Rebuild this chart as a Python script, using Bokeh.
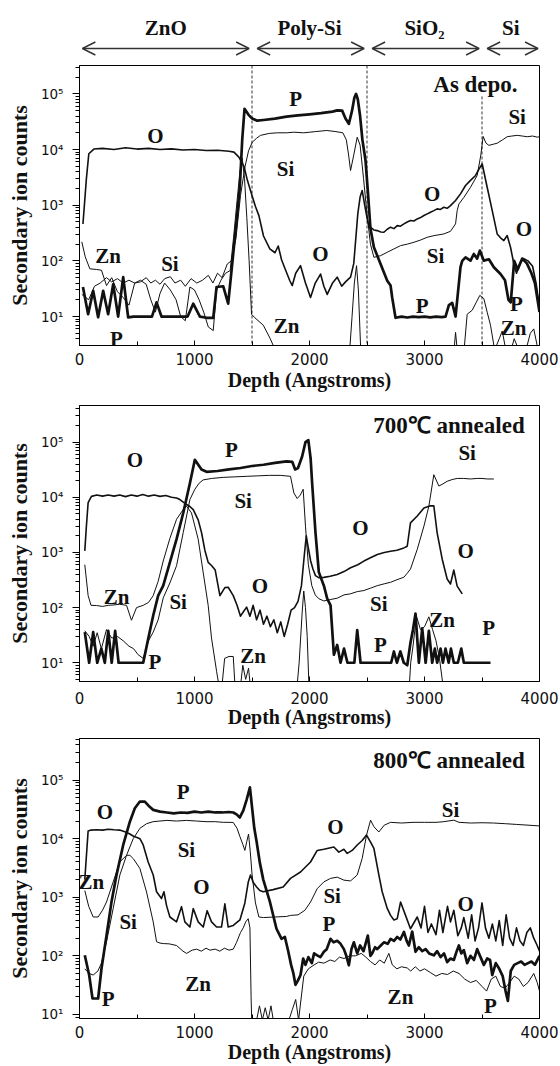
from bokeh.plotting import figure
from bokeh.layouts import column
from bokeh.models import (Range1d, FixedTicker, Arrow, OpenHead, ColumnDataSource,
                          CustomJSTickFormatter)
from bokeh.core.properties import value
from bokeh.embed import file_html
from bokeh.resources import INLINE

# ---------------------------------------------------------------- data
layers = ["ZnO", "Poly-Si", "SiO\u2082", "Si"]
layer_bounds = [0, 1500, 2500, 3500, 4000]
x_ticks = [0, 1000, 2000, 3000, 4000]
x_minor = [500, 1500, 2500, 3500]
y_decades = [10, 100, 1000, 10000, 100000]

# ---- panel 1 : as deposited
p1_O_x = [30, 60, 81, 125, 200, 300, 400, 500, 600, 700, 800, 900, 1000, 1100, 1200, 1300, 1343, 1386, 1430, 1460,
          1500, 1530, 1560, 1600, 1655, 1700, 1728, 1757, 1790, 1829, 1850, 1880, 1922, 1965, 2009, 2050, 2096, 2125,
          2154, 2200, 2241, 2280, 2313, 2357, 2385, 2420, 2440, 2458, 2480, 2500, 2516, 2531, 2560, 2588, 2620, 2647,
          2676, 2705, 2734, 2763, 2792, 2821, 2850, 2878, 2908, 2937, 2966, 2995, 3024, 3052, 3081, 3110, 3139, 3168,
          3197, 3226, 3270, 3313, 3357, 3400, 3444, 3475, 3502, 3545, 3589, 3632, 3661, 3690, 3719, 3748, 3777, 3800,
          3830, 3860, 3900, 3940, 3970, 4000]
p1_O_y = [460, 3000, 8400, 10200, 10500, 10000, 10800, 10200, 10500, 10000, 10300, 9800, 10000, 9600, 9700, 9300, 9000,
          7300, 5000, 2800, 1500, 950, 650, 280, 165, 140, 185, 105, 70, 44, 36, 60, 82, 40, 22, 40, 58, 35, 25, 40,
          51, 35, 42, 51, 90, 700, 1400, 1840, 1000, 600, 420, 400, 360, 350, 330, 327, 370, 403, 380, 430, 420, 462,
          500, 531, 520, 568, 600, 653, 700, 750, 800, 860, 840, 920, 880, 985, 1213, 1600, 2260, 2800, 3420, 4500,
          5500, 2100, 800, 305, 260, 232, 285, 176, 88, 60, 90, 110, 100, 80, 40, 15]
p1_P_x = [30, 75, 119, 162, 206, 249, 293, 336, 380, 423, 470, 520, 580, 630, 670, 713, 760, 820, 880, 940, 989, 1047,
          1105, 1163, 1192, 1250, 1293, 1322, 1366, 1394, 1415, 1435, 1470, 1502, 1545, 1600, 1700, 1800, 1900, 2000,
          2100, 2200, 2241, 2284, 2313, 2342, 2370, 2390, 2405, 2420, 2440, 2460, 2487, 2510, 2530, 2560, 2618, 2676,
          2705, 2719, 2748, 2800, 2850, 2900, 2950, 3000, 3050, 3100, 3150, 3183, 3212, 3241, 3270, 3313, 3328, 3357,
          3400, 3429, 3458, 3481, 3516, 3560, 3603, 3661, 3700, 3730, 3750, 3780, 3810, 3850, 3890, 3930, 3960, 4000]
p1_P_y = [34, 11, 29, 9.7, 29, 11, 38, 10, 51, 9.7, 10, 10, 10, 10, 18, 10, 10, 10, 10, 10, 17, 10, 9.5, 9.5, 34, 35,
          17, 67, 531, 2100, 15000, 54000, 42000, 36000, 33000, 34000, 36000, 39000, 41000, 43000, 45000, 48000, 50500,
          50000, 36000, 29000, 50000, 85000, 100000, 80000, 40000, 15000, 6400, 1500, 380, 176, 88, 44, 36, 22, 9.5,
          10, 9.6, 10, 9.8, 10, 9.7, 10, 9.8, 10, 16, 17.6, 10, 77, 100, 116, 101, 133, 110, 153, 101, 107, 77, 58, 45,
          20, 18, 100, 70, 110, 90, 60, 40, 12]
p1_Si_x = [20, 80, 130, 180, 235, 280, 330, 380, 430, 480, 530, 580, 620, 660, 700, 740, 790, 830, 880, 920, 970, 1020,
           1070, 1120, 1160, 1200, 1240, 1285, 1320, 1360, 1400, 1440, 1470, 1502, 1540, 1574, 1650, 1720, 1800, 1864,
           1950, 2050, 2150, 2230, 2290, 2320, 2340, 2357, 2385, 2415, 2440, 2470, 2500, 2530, 2560, 2618, 2676, 2734,
           2792, 2850, 2908, 2966, 3024, 3082, 3168, 3226, 3270, 3284, 3299, 3342, 3400, 3458, 3490, 3510, 3535, 3560,
           3600, 3632, 3680, 3719, 3760, 3806, 3850, 3893, 3940, 3980, 4000]
p1_Si_y = [25, 20, 35, 40, 50, 42, 48, 40, 45, 40, 42, 50, 40, 45, 38, 48, 52, 40, 45, 35, 48, 40, 45, 55, 40, 60, 50,
           88, 100, 250, 1500, 5000, 9500, 13500, 16000, 18000, 19500, 20000, 20000, 20500, 20000, 21000, 22000, 21000,
           20000, 15000, 8000, 4200, 8000, 16700, 12000, 3000, 700, 200, 116, 124, 143, 164, 188, 200, 216, 237, 266,
           284, 305, 340, 462, 800, 1050, 1380, 2100, 3420, 8000, 17200, 13000, 11900, 12500, 13000, 15000, 17000,
           17500, 18000, 17500, 17000, 17500, 16700, 17000]
p1_Zn_x = [20, 50, 90, 150, 191, 235, 280, 330, 380, 430, 480, 530, 580, 620, 660, 700, 740, 790, 840, 880, 920, 960,
           1000, 1040, 1080, 1120, 1163, 1192, 1230, 1270, 1310, 1340, 1370, 1395, 1415, 1435, 1455, 1475, 1496, 1525,
           1598, 1656, 1699, 1730, 1800, 2300, 2342, 2370, 2390, 2409, 2425, 2444, 2470, 3240, 3270, 3295, 3340, 3371,
           3415, 3450, 3481, 3516, 3545, 3574, 3610, 3650, 3676, 3700, 3740, 3780, 3820, 3870, 3920, 3950, 3980, 4000]
p1_Zn_y = [220, 118, 72, 70, 68, 36, 50, 28, 22, 16, 40, 45, 38, 20, 12, 26, 40, 30, 20, 10, 8.4, 34, 30, 20, 12, 6.5,
           5.6, 30, 45, 60, 67, 266, 1200, 4000, 7000, 3000, 600, 100, 11, 9.5, 7, 4.1, 2.6, 2.0, 1, 1, 1.5, 10, 40, 82,
           30, 3, 1, 1, 5.2, 1.5, 2, 11, 13, 18, 24, 21, 12, 7, 2.5, 4, 5.5, 3, 2, 4, 2.5, 2, 5, 6, 3, 2]
p1_lab = ["O", "P", "Si", "Zn", "Si", "P", "Zn", "O", "O", "Si", "P", "Si", "O", "P", "Zn"]
p1_lab_x = [660, 1879, 1792, 249, 786, 322, 1800, 2096, 3067, 3096, 2980, 3806, 3864, 3800, 3774]
p1_lab_y = [17500, 82000, 4500, 124, 88, 3.9, 6.9, 133, 1600, 124, 15.7, 38000, 376, 17, 6.3]

# ---- panel 2 : 700 C annealed
p2_O_x = [46, 60, 75, 104, 150, 200, 250, 300, 350, 400, 450, 500, 550, 600, 650, 700, 750, 800, 844, 873, 931, 960,
          989, 1032, 1061, 1090, 1119, 1148, 1180, 1221, 1264, 1293, 1337, 1370, 1400, 1424, 1453, 1482, 1510, 1540,
          1570, 1600, 1630, 1660, 1690, 1720, 1750, 1780, 1810, 1840, 1870, 1900, 1930, 1955, 1972, 1990, 2010, 2030,
          2052, 2080, 2125, 2180, 2241, 2300, 2357, 2420, 2473, 2530, 2590, 2650, 2705, 2760, 2821, 2850, 2878, 2937,
          2995, 3052, 3081, 3110, 3154, 3197, 3226, 3255, 3284, 3328]
p2_O_y = [1070, 3000, 8000, 10400, 11000, 10500, 11000, 10500, 11000, 10300, 11000, 10500, 11200, 10500, 11000, 10400,
          10800, 10000, 9700, 9100, 7400, 6800, 6000, 3900, 2300, 1100, 660, 580, 480, 165, 230, 234, 165, 110, 70, 83,
          102, 70, 110, 60, 90, 50, 70, 45, 60, 35, 55, 30, 50, 90, 100, 130, 250, 900, 2000, 1200, 700, 500, 380, 350,
          353, 370, 400, 450, 528, 600, 698, 800, 920, 1000, 1050, 1100, 1210, 1300, 3440, 4580, 6400, 7000, 7000,
          2270, 755, 330, 268, 480, 245, 177]
p2_P_x = [46, 84, 119, 154, 190, 220, 250, 280, 310, 340, 380, 420, 460, 500, 554, 597, 641, 684, 728, 786, 844, 902,
          960, 1003, 1061, 1105, 1200, 1300, 1400, 1500, 1600, 1700, 1800, 1850, 1875, 1900, 1936, 1965, 1990, 2010,
          2023, 2052, 2081, 2125, 2154, 2183, 2212, 2241, 2270, 2300, 2330, 2360, 2390, 2415, 2444, 2480, 2520, 2560,
          2600, 2640, 2680, 2710, 2734, 2760, 2790, 2820, 2850, 2878, 2900, 2922, 2951, 2980, 3010, 3038, 3067, 3090,
          3110, 3140, 3160, 3183, 3210, 3230, 3255, 3290, 3320, 3342, 3371, 3420, 3458, 3520, 3574]
p2_P_y = [36, 10, 36, 10, 18, 10, 38, 10, 38, 10, 10, 10, 10, 10, 10, 27, 72, 165, 250, 660, 1740, 5200, 18000, 48000,
          32000, 29000, 30000, 32000, 34000, 37000, 39000, 42000, 45000, 44000, 32000, 34000, 55000, 100000, 109000,
          50000, 18000, 2300, 440, 250, 145, 110, 14, 21, 10, 18, 10, 10, 10, 39, 10, 10, 10, 10, 10, 10, 10, 10, 16,
          10, 16, 10, 9, 23, 40, 78, 10, 42, 10, 38, 10, 18, 10, 18, 10, 18, 10, 18, 10, 10, 18, 10, 10, 10, 10, 10, 10]
p2_Si_x = [46, 84, 119, 154, 190, 235, 280, 330, 380, 430, 470, 510, 554, 600, 641, 684, 728, 786, 844, 902, 960, 1003,
           1040, 1075, 1150, 1250, 1350, 1450, 1550, 1650, 1750, 1835, 1864, 1893, 1920, 1945, 1965, 1990, 2020, 2050,
           2081, 2125, 2180, 2241, 2300, 2357, 2415, 2473, 2530, 2589, 2650, 2705, 2760, 2821, 2850, 2878, 2937, 2995,
           3038, 3081, 3125, 3160, 3197, 3240, 3284, 3340, 3400, 3458, 3500, 3545, 3603]
p2_Si_y = [38, 30, 20, 35, 18, 40, 28, 30, 25, 20, 18, 14, 12, 25, 36, 60, 150, 280, 575, 2300, 9100, 14000, 18000,
           20700, 22000, 23000, 23500, 24000, 24500, 25000, 25000, 24000, 12000, 9500, 11000, 14000, 3000, 600, 250,
           170, 145, 132, 140, 148, 170, 178, 195, 204, 225, 250, 270, 288, 320, 356, 420, 500, 1140, 3000, 6900,
           25700, 16000, 17500, 19500, 21000, 22000, 22000, 21500, 22000, 22000, 21500, 21500]
p2_Zn_x = [46, 75, 100, 148, 200, 250, 300, 350, 409, 452, 496, 554, 600, 641, 684, 728, 786, 844, 902, 931, 974, 1032,
           1075, 1119, 1148, 1192, 1221, 1240, 1262, 1300, 1337, 1355, 1395, 1420, 1445, 1470, 1490, 1520, 1880, 1910,
           1936, 1950, 1965, 1980, 2000, 2860, 2880, 2900, 2930, 2965, 3000, 3038, 3070, 3100, 3130, 3160]
p2_Zn_y = [600, 165, 110, 109, 105, 110, 112, 115, 110, 59, 100, 110, 124, 165, 300, 700, 1800, 4000, 6000, 6900, 5200,
           1740, 440, 110, 28, 7, 3, 4, 12, 13, 13, 3, 3, 9, 5, 8, 3, 2, 2, 10, 80, 200, 100, 30, 2, 2, 10, 20, 70, 40,
           45, 68, 40, 25, 12, 4]
p2_lab = ["O", "P", "Si", "O", "Zn", "Si", "P", "Zn", "O", "Si", "P", "O", "Zn", "P", "Si"]
p2_lab_x = [481, 1322, 1423, 1568, 322, 858, 655, 1510, 2443, 2603, 2617, 3357, 3154, 3559, 3371]
p2_lab_y = [48000, 72000, 8500, 250, 155, 126, 10.5, 13, 2800, 117, 21, 1070, 59, 42, 63000]

# ---- panel 3 : 800 C annealed
p3_O_x = [46, 75, 100, 150, 200, 250, 300, 350, 400, 438, 470, 500, 525, 554, 597, 641, 670, 713, 734, 757, 786, 844,
          887, 916, 960, 989, 1032, 1076, 1110, 1148, 1192, 1235, 1264, 1293, 1337, 1395, 1438, 1467, 1487, 1510, 1540,
          1568, 1598, 1684, 1771, 1835, 1922, 2009, 2067, 2125, 2212, 2255, 2299, 2328, 2371, 2415, 2458, 2496, 2531,
          2560, 2603, 2632, 2676, 2705, 2734, 2763, 2792, 2835, 2878, 2937, 2970, 3000, 3030, 3060, 3100, 3130, 3160,
          3200, 3226, 3255, 3290, 3320, 3342, 3380, 3410, 3440, 3470, 3500, 3530, 3560, 3590, 3620, 3650, 3680, 3710,
          3740, 3770, 3800, 3830, 3860, 3890, 3920, 3950, 3980, 4000]
p3_O_y = [2000, 13500, 14000, 14200, 14000, 14500, 14200, 14000, 13000, 12000, 11000, 10500, 10000, 7800, 4000, 2400,
          1240, 950, 1240, 720, 460, 380, 690, 380, 310, 640, 380, 310, 590, 380, 310, 310, 770, 310, 330, 410, 800,
          1800, 2400, 1800, 1500, 1300, 1240, 1350, 1500, 2100, 2700, 4000, 6300, 6600, 7200, 5900, 6600, 5600, 6300,
          7800, 9300, 11500, 8700, 6800, 2400, 1240, 645, 490, 410, 430, 830, 490, 290, 460, 300, 700, 250, 350, 230,
          600, 250, 700, 380, 600, 220, 300, 450, 200, 500, 180, 300, 800, 300, 200, 350, 180, 400, 150, 500, 200, 150,
          300, 180, 150, 250, 300, 200, 150, 120]
p3_P_x = [46, 84, 113, 162, 191, 235, 278, 322, 380, 438, 481, 525, 568, 610, 641, 700, 760, 820, 880, 940, 1000, 1060,
          1120, 1180, 1240, 1300, 1337, 1366, 1394, 1424, 1453, 1482, 1500, 1520, 1540, 1568, 1598, 1656, 1713, 1757,
          1786, 1815, 1840, 1860, 1878, 1900, 1922, 1945, 1965, 1990, 2020, 2040, 2067, 2095, 2125, 2150, 2183, 2210,
          2241, 2270, 2299, 2320, 2342, 2365, 2386, 2415, 2440, 2470, 2507, 2530, 2545, 2570, 2589, 2620, 2647, 2680,
          2705, 2735, 2763, 2790, 2821, 2845, 2864, 2893, 2922, 2950, 2980, 3010, 3040, 3081, 3110, 3140, 3170, 3197,
          3226, 3255, 3280, 3299, 3320, 3342, 3371, 3400, 3430, 3458, 3487, 3516, 3545, 3570, 3589, 3620, 3650, 3680,
          3705, 3725, 3750, 3780, 3810, 3840, 3870, 3900, 3930, 3960, 4000]
p3_P_y = [102, 47, 18.7, 18.7, 60, 223, 826, 2400, 7800, 19500, 33000, 43000, 43000, 35000, 31000, 29000, 28000, 27000,
          28000, 27500, 29000, 28000, 29000, 28000, 28000, 28500, 28000, 26000, 23000, 30000, 46000, 75000, 35000,
          15000, 8900, 3900, 2000, 830, 290, 195, 210, 120, 70, 50, 32, 38, 47, 90, 70, 95, 75, 110, 102, 95, 117, 130,
          195, 170, 180, 160, 130, 100, 69, 130, 170, 110, 150, 120, 222, 100, 110, 140, 130, 150, 170, 160, 195, 180,
          210, 190, 255, 180, 150, 260, 117, 140, 120, 130, 110, 102, 120, 95, 110, 78, 90, 85, 120, 150, 110, 125, 75,
          100, 85, 130, 95, 70, 90, 85, 47, 75, 60, 45, 25, 17, 55, 70, 75, 80, 70, 75, 80, 70, 100]
p3_Si_x = [46, 84, 119, 160, 191, 235, 293, 351, 409, 467, 525, 583, 640, 699, 760, 844, 930, 1018, 1100, 1180, 1250,
           1300, 1337, 1370, 1394, 1420, 1438, 1455, 1470, 1485, 1500, 1530, 1560, 1600, 1700, 1800, 1835, 1900, 1960,
           2009, 2067, 2125, 2183, 2241, 2299, 2357, 2415, 2458, 2496, 2531, 2560, 2603, 2650, 2705, 2800, 2900, 3000,
           3100, 3168, 3255, 3300, 3400, 3500, 3600, 3705, 3800, 3900, 4000]
p3_Si_y = [60, 50, 47, 55, 75, 174, 645, 2400, 5200, 10000, 15000, 18000, 19500, 20000, 20500, 20000, 20500, 20000,
           19500, 19500, 19000, 19000, 18900, 15000, 11000, 8000, 6300, 9000, 12000, 6000, 2500, 800, 460, 450, 460,
           470, 490, 500, 600, 830, 1400, 1830, 2100, 2200, 1960, 1900, 2400, 4600, 11500, 20700, 16000, 13000, 17000,
           19000, 18500, 19000, 19000, 19000, 19500, 20700, 19000, 18500, 18700, 18500, 18000, 17500, 17000, 16500]
p3_Zn_x = [46, 80, 119, 162, 200, 235, 293, 351, 409, 438, 470, 525, 583, 641, 670, 700, 728, 780, 844, 900, 931, 980,
           1018, 1060, 1100, 1134, 1180, 1220, 1260, 1300, 1337, 1366, 1400, 1424, 1445, 1467, 1482, 1492, 1500, 1540,
           1565, 1590, 1615, 1640, 1665, 1690, 1720, 1800, 1850, 1880, 1905, 1950, 1990, 2040, 2080, 2125, 2180, 2220,
           2260, 2300, 2350, 2400, 2450, 2490, 2530, 2570, 2610, 2650, 2690, 2720, 2760, 2800, 2850, 2880, 2920, 2960,
           3000, 3050, 3100, 3150, 3200, 3250, 3300, 3350, 3400, 3450, 3500, 3540, 3580, 3620, 3660, 3700, 3740, 3780,
           3820, 3860, 3900, 3950, 3980, 4000]
p3_Zn_y = [1300, 700, 460, 460, 600, 830, 1830, 4000, 5200, 5200, 4500, 3100, 1230, 380, 174, 165, 162, 160, 150, 120,
           110, 125, 130, 120, 135, 125, 130, 120, 135, 125, 130, 170, 250, 300, 380, 430, 300, 20, 5, 8, 14, 8, 13, 8,
           14, 7, 6, 6, 12, 18, 8, 45, 60, 70, 78, 75, 85, 80, 95, 90, 100, 100, 110, 95, 80, 70, 85, 75, 110, 70, 60,
           65, 62, 55, 65, 55, 60, 52, 45, 50, 48, 55, 50, 40, 35, 38, 30, 25, 40, 45, 30, 28, 35, 45, 40, 30, 35, 50,
           35, 25]
p3_lab = ["O", "P", "Si", "O", "Zn", "Si", "Zn", "P", "O", "Si", "Si", "P", "O", "Zn", "P"]
p3_lab_x = [220, 901, 930, 1061, 104, 423, 1032, 249, 2226, 3226, 2197, 2168, 3357, 2791, 3574]
p3_lab_y = [29000, 63000, 6300, 1500, 1820, 380, 33, 18.6, 16000, 31000, 1070, 355, 780, 20, 14]

# ---------------------------------------------------------------- style
SERIF = "Liberation Serif"
SANS = "DejaVu Sans"
INK = "#111111"
FRAME_L, FRAME_R, W = 79, 21, 560

sup_fmt = CustomJSTickFormatter(code="""
const sup = ["\u2070","\u00b9","\u00b2","\u00b3","\u2074","\u2075","\u2076","\u2077","\u2078","\u2079"];
const e = Math.round(Math.log10(tick));
return "10" + (e >= 0 && e < 10 ? sup[e] : String(e));
""")
y_minor = [m * d / 10 for d in [1] + y_decades + [1000000] for m in range(2, 10)]


def panel(height, top, bottom, ylo, yhi, tick_sd, lab_sd):
    p = figure(width=W, height=height, x_range=Range1d(0, 4000), y_range=Range1d(ylo, yhi),
               y_axis_type="log", output_backend="svg", toolbar_location=None,
               min_border_left=FRAME_L, min_border_right=FRAME_R,
               min_border_top=top, min_border_bottom=bottom)
    p.grid.visible = False
    p.outline_line_color = "black"
    p.outline_line_width = 1
    p.outline_line_alpha = 1
    xa = p.xaxis[0]
    xa.ticker = FixedTicker(ticks=x_ticks, minor_ticks=x_minor)
    xa.axis_label = "Depth (Angstroms)"
    xa.axis_label_text_font = SERIF
    xa.axis_label_text_font_style = "bold"
    xa.axis_label_text_font_size = "20px"
    xa.axis_label_text_color = INK
    xa.axis_label_standoff = lab_sd
    xa.major_label_text_font = SANS
    xa.major_label_text_font_size = "15px"
    xa.major_label_text_color = INK
    xa.major_label_standoff = tick_sd
    xa.major_tick_in, xa.major_tick_out = 5, 0
    xa.minor_tick_in, xa.minor_tick_out = 4, 0
    xa.axis_line_color = "black"
    xa.major_tick_line_color = "black"
    xa.minor_tick_line_color = "black"
    ya = p.yaxis[0]
    ya.ticker = FixedTicker(ticks=y_decades, minor_ticks=y_minor)
    ya.formatter = sup_fmt
    ya.axis_label = "Secondary ion counts"
    ya.axis_label_text_font = SERIF
    ya.axis_label_text_font_style = "bold"
    ya.axis_label_text_font_size = "22px"
    ya.axis_label_text_color = INK
    ya.axis_label_standoff = 6
    ya.major_label_text_font = SANS
    ya.major_label_text_font_size = "13.5px"
    ya.major_label_text_color = INK
    ya.major_label_standoff = 9
    ya.major_tick_in, ya.major_tick_out = 0, 7
    ya.minor_tick_in, ya.minor_tick_out = 0, 4
    ya.axis_line_color = "black"
    ya.major_tick_line_color = "black"
    ya.minor_tick_line_color = "black"
    return p


def draw(p, series, labels, lx, ly):
    widths = {"O": 1.6, "P": 2.7, "Si": 1.0, "Zn": 1.0}
    for name, (xs, ys) in series.items():
        n = min(len(xs), len(ys))
        p.line(xs[:n], ys[:n], line_color=INK, line_width=widths[name], line_join="round")
    src = ColumnDataSource(dict(x=lx, y=ly, t=labels))
    p.text(x="x", y="y", text="t", source=src, text_font=value(SERIF), text_font_style="bold",
           text_font_size="21px", text_align="center", text_baseline="middle", text_color=INK)


def title(p, txt, x, y):
    p.text(x=[x], y=[y], text=[txt], text_font=value(SERIF), text_font_style="bold",
           text_font_size="23px", text_align="center", text_baseline="middle", text_color=INK)


# ---------------------------------------------------------------- header (layer arrows)
hdr = figure(width=W, height=60, x_range=Range1d(0, 4000), y_range=Range1d(60, 0),
             output_backend="svg", toolbar_location=None, x_axis_location=None, y_axis_location=None,
             min_border_left=FRAME_L, min_border_right=FRAME_R, min_border_top=0, min_border_bottom=0)
hdr.grid.visible = False
hdr.outline_line_color = None
centers = [(a + b) / 2 for a, b in zip(layer_bounds[:-1], layer_bounds[1:])]
hdr.text(x=centers, y=[27] * len(layers), text=layers, text_font=value(SERIF), text_font_style="bold",
         text_font_size="21px", text_align="center", text_baseline="middle", text_color=INK)
for a, b in zip(layer_bounds[:-1], layer_bounds[1:]):
    x0 = a + (45 if a > 0 else 25)
    x1 = b - (25 if b < 4000 else 13)
    hdr.add_layout(Arrow(start=OpenHead(size=13, line_width=1.4, line_color="#333333"),
                         end=OpenHead(size=13, line_width=1.4, line_color="#333333"),
                         x_start=x0, y_start=48, x_end=x1, y_end=48,
                         line_width=1.4, line_color="#333333"))

# ---------------------------------------------------------------- panels
p1_lo, p1_hi = 10 ** 0.48, 10 ** 5.51
p1 = panel(335, 5, 50, p1_lo, p1_hi, 7, 1)
p1.segment(x0=layer_bounds[1:4], x1=layer_bounds[1:4], y0=[p1_hi, p1_hi, 9e4], y1=[p1_lo] * 3,
           line_color="#333333", line_width=1, line_dash="3 2")
draw(p1, {"O": (p1_O_x, p1_O_y), "P": (p1_P_x, p1_P_y), "Si": (p1_Si_x, p1_Si_y), "Zn": (p1_Zn_x, p1_Zn_y)},
     p1_lab, p1_lab_x, p1_lab_y)
title(p1, "As depo.", 3443, 1.48e5)

p2 = panel(335, 10, 47, 10 ** 0.66, 10 ** 5.665, 10, -1)
draw(p2, {"O": (p2_O_x, p2_O_y), "P": (p2_P_x, p2_P_y), "Si": (p2_Si_x, p2_Si_y), "Zn": (p2_Zn_x, p2_Zn_y)},
     p2_lab, p2_lab_x, p2_lab_y)
title(p2, "700\u2103 annealed", 3213, 2.02e5)

p3 = panel(336, 8, 48, 10 ** 0.93, 10 ** 5.71, 7, 0)
draw(p3, {"O": (p3_O_x, p3_O_y), "P": (p3_P_x, p3_P_y), "Si": (p3_Si_x, p3_Si_y), "Zn": (p3_Zn_x, p3_Zn_y)},
     p3_lab, p3_lab_x, p3_lab_y)
title(p3, "800\u2103 annealed", 3213, 2.2e5)

layout = column(hdr, p1, p2, p3)
open("out.html", "w").write(file_html(layout, INLINE))
